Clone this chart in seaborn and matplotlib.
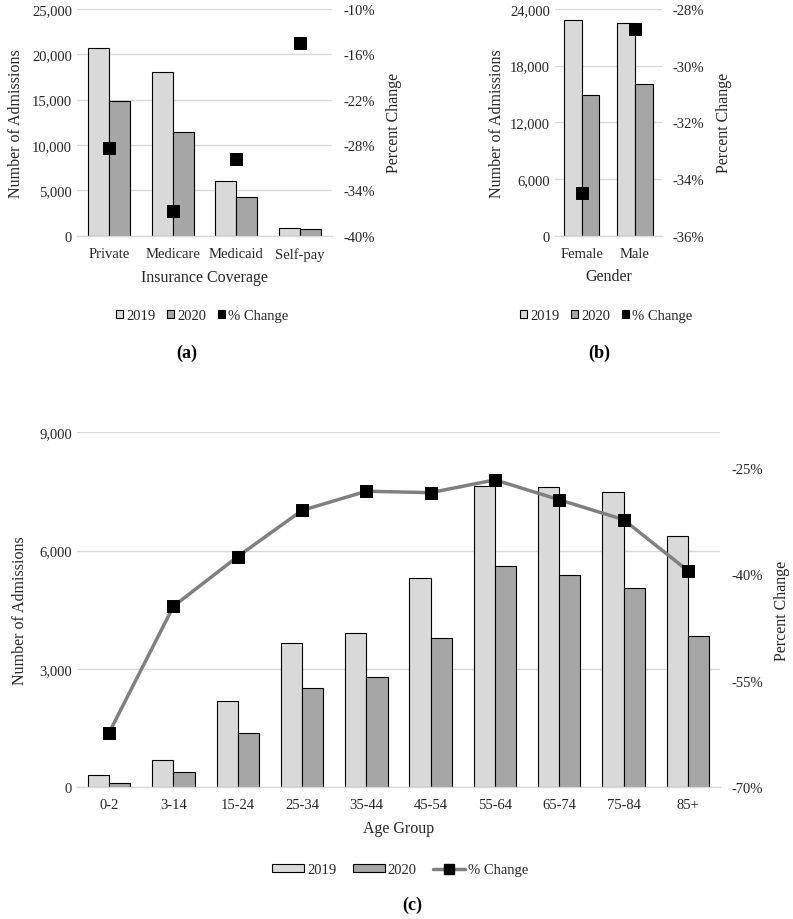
import numpy as np
import pandas as pd
import matplotlib
matplotlib.use("Agg")
import matplotlib.pyplot as plt
from matplotlib.patches import Patch
from matplotlib.lines import Line2D
from matplotlib.ticker import FuncFormatter, FixedLocator
import seaborn as sns

# ---------------- data ----------------
ins_cats = ["Private", "Medicare", "Medicaid", "Self-pay"]
ins_2019 = [20700, 18000, 6000, 800]
ins_2020 = [14800, 11400, 4230, 720]
ins_pct = [-28.4, -36.7, -29.8, -14.5]

gen_cats = ["Female", "Male"]
gen_2019 = [22800, 22500]
gen_2020 = [14900, 16100]
gen_pct = [-34.5, -28.7]

age_cats = ["0-2", "3-14", "15-24", "25-34", "35-44", "45-54", "55-64", "65-74", "75-84", "85+"]
age_2019 = [310, 700, 2180, 3670, 3920, 5310, 7650, 7610, 7490, 6380]
age_2020 = [110, 380, 1370, 2525, 2800, 3790, 5610, 5380, 5060, 3840]
age_pct = [-62.3, -44.5, -37.5, -31.0, -28.3, -28.5, -26.7, -29.5, -32.3, -39.5]

years = ["2019", "2020"]

# ---------------- style ----------------
sns.set_theme(style="white")
plt.rcParams["font.family"] = ["Liberation Serif", "DejaVu Serif"]
plt.rcParams["font.size"] = 10.5
TXT = "#262626"
C19 = "#d9d9d9"
C20 = "#a6a6a6"
GRID = "#d9d9d9"

W, H = 793, 920
fig = plt.figure(figsize=(W / 100, H / 100), dpi=100)


def rect(l, t, r, b):
    return [l / W, 1 - b / H, (r - l) / W, (b - t) / H]


def make_df(cats, v19, v20):
    return pd.DataFrame({
        "cat": list(cats) * 2,
        "val": list(v19) + list(v20),
        "year": [years[0]] * len(cats) + [years[1]] * len(cats),
    })


def style_axes(ax):
    for s in ["top", "right", "left"]:
        ax.spines[s].set_visible(False)
    ax.spines["bottom"].set_color(GRID)
    ax.spines["bottom"].set_linewidth(1.0)
    ax.tick_params(axis="both", length=0, colors=TXT, labelsize=10.5)
    ax.yaxis.grid(True, color=GRID, linewidth=1.0)
    ax.set_axisbelow(True)
    ax.yaxis.set_major_formatter(FuncFormatter(lambda v, p: f"{int(v):,}"))


def bars(ax, cats, v19, v20, ymax, ystep, xlabel):
    df = make_df(cats, v19, v20)
    sns.barplot(data=df, x="cat", y="val", hue="year", palette=[C19, C20],
                edgecolor="black", linewidth=0.8, width=0.66, ax=ax,
                legend=False, saturation=1)
    ax.set_ylim(0, ymax)
    ax.yaxis.set_major_locator(FixedLocator(np.arange(0, ymax + 1, ystep)))
    ax.set_xlim(-0.5, len(cats) - 0.5)
    style_axes(ax)
    ax.set_ylabel("Number of Admissions", fontsize=11.5, color=TXT)
    ax.set_xlabel(xlabel, fontsize=11.5, color=TXT, labelpad=6)
    ax.tick_params(axis="x", pad=8)


def right_axis(ax, lo, hi, step, pad=8):
    ax2 = ax.twinx()
    ax2.set_ylim(lo, hi)
    ax2.yaxis.set_major_locator(FixedLocator(np.arange(lo, hi + 0.001, step)))
    ax2.yaxis.set_major_formatter(FuncFormatter(lambda v, p: f"{v:.0f}%"))
    for s in ax2.spines.values():
        s.set_visible(False)
    ax2.tick_params(axis="y", length=0, colors=TXT, labelsize=10.5, pad=8)
    ax2.set_ylabel("Percent Change", fontsize=11.5, color=TXT, labelpad=pad)
    ax2.grid(False)
    return ax2


# ---------------- panel (a) ----------------
axa = fig.add_axes(rect(77, 10, 332, 236.7))
bars(axa, ins_cats, ins_2019, ins_2020, 25000, 5000, "Insurance Coverage")
axa.set_ylabel("Number of Admissions", fontsize=11.5, color=TXT, labelpad=6)
axa2 = right_axis(axa, -40, -10, 6)
sns.scatterplot(x=np.arange(len(ins_cats)), y=ins_pct, marker="s", s=75,
                color="black", edgecolor="black", ax=axa2, legend=False, zorder=5)
axa2.set_xlim(-0.5, len(ins_cats) - 0.5)

# ---------------- panel (b) ----------------
axb = fig.add_axes(rect(555, 10, 661.7, 236.7))
bars(axb, gen_cats, gen_2019, gen_2020, 24000, 6000, "Gender")
axb2 = right_axis(axb, -36, -28, 2)
sns.scatterplot(x=np.arange(len(gen_cats)), y=gen_pct, marker="s", s=75,
                color="black", edgecolor="black", ax=axb2, legend=False, zorder=5)
axb2.set_xlim(-0.5, len(gen_cats) - 0.5)

# legends for (a) and (b)
sq_handles = [
    Patch(facecolor=C19, edgecolor="black", linewidth=0.8),
    Patch(facecolor=C20, edgecolor="black", linewidth=0.8),
    Patch(facecolor="black", edgecolor="black", linewidth=0.8),
]
for cx in (202, 606):
    fig.legend(sq_handles, ["2019", "2020", "% Change"], loc="center",
               bbox_to_anchor=(cx / W, 1 - 317 / H), ncol=3, frameon=False,
               handlelength=0.5, handleheight=0.5, handletextpad=0.2,
               columnspacing=0.8, fontsize=10.5, labelcolor=TXT,
               borderpad=0.2)

fig.text(187 / W, 1 - 353 / H, "(a)", ha="center", va="center",
         fontsize=13, fontweight="bold", color="black")
fig.text(599 / W, 1 - 353 / H, "(b)", ha="center", va="center",
         fontsize=13, fontweight="bold", color="black")

# ---------------- panel (c) ----------------
axc = fig.add_axes(rect(77, 433.3, 720, 788.3))
bars(axc, age_cats, age_2019, age_2020, 9000, 3000, "Age Group")
axc.set_ylabel("Number of Admissions", fontsize=11.5, color=TXT, labelpad=8)
axc2 = right_axis(axc, -70, -20, 15, pad=8)
sns.lineplot(x=np.arange(len(age_cats)), y=age_pct, color="#808080",
             linewidth=2.5, ax=axc2, legend=False, zorder=4)
sns.scatterplot(x=np.arange(len(age_cats)), y=age_pct, marker="s", s=75,
                color="black", edgecolor="black", ax=axc2, legend=False, zorder=5)
axc2.set_xlim(-0.5, len(age_cats) - 0.5)

c_handles = [
    Patch(facecolor=C19, edgecolor="black", linewidth=0.8),
    Patch(facecolor=C20, edgecolor="black", linewidth=0.8),
    Line2D([0], [0], color="#808080", linewidth=2.5, marker="s",
           markersize=7, markerfacecolor="black", markeredgecolor="black"),
]
fig.legend(c_handles, ["2019", "2020", "% Change"], loc="center",
           bbox_to_anchor=(400 / W, 1 - 871 / H), ncol=3, frameon=False,
           handlelength=2.2, handleheight=0.5, handletextpad=0.2,
           columnspacing=1.1, fontsize=10.5, labelcolor=TXT, borderpad=0.2)

fig.text(412 / W, 1 - 905 / H, "(c)", ha="center", va="center",
         fontsize=13, fontweight="bold", color="black")

fig.savefig("out.png", dpi=100)
